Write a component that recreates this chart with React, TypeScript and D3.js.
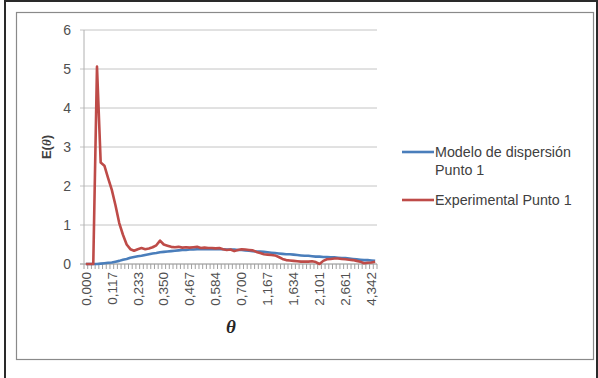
import React from "react";
import * as d3 from "d3";

// θ labels shown on the category axis (one every 7 categories)
const thetaTicks = ["0,000", "0,117", "0,233", "0,350", "0,467", "0,584", "0,700", "1,167", "1,634", "2,101", "2,661", "4,342"];
const tickEvery = 7;

const yTicks = [0, 1, 2, 3, 4, 5, 6];

// Modelo de dispersión Punto 1
const modelo = [
  0, 0, 0, 0, 0.01, 0.02, 0.03, 0.04, 0.06, 0.08,
  0.11, 0.13, 0.16, 0.18, 0.2, 0.21, 0.23, 0.25, 0.27, 0.28,
  0.3, 0.31, 0.32, 0.33, 0.34, 0.35, 0.36, 0.36, 0.37, 0.37,
  0.38, 0.38, 0.38, 0.38, 0.38, 0.38, 0.38, 0.38, 0.37, 0.37,
  0.37, 0.36, 0.36, 0.35, 0.34, 0.33, 0.32, 0.32, 0.31, 0.3,
  0.29, 0.28, 0.27, 0.26, 0.25, 0.25, 0.24, 0.23, 0.22, 0.21,
  0.21, 0.2, 0.19, 0.19, 0.18, 0.18, 0.17, 0.17, 0.16, 0.15,
  0.15, 0.14, 0.13, 0.12, 0.11, 0.1, 0.1, 0.09, 0.08,
];

// Experimental Punto 1
const experimental = [
  0, 0, 0, 5.06, 2.6, 2.52, 2.2, 1.9, 1.5, 1.05,
  0.75, 0.5, 0.38, 0.34, 0.38, 0.41, 0.38, 0.4, 0.43, 0.48,
  0.6, 0.5, 0.47, 0.44, 0.43, 0.44, 0.42, 0.43, 0.42, 0.43,
  0.44, 0.41, 0.42, 0.41, 0.41, 0.4, 0.41, 0.38, 0.36, 0.37,
  0.33, 0.36, 0.38, 0.37, 0.36, 0.35, 0.31, 0.28, 0.25, 0.24,
  0.23, 0.22, 0.18, 0.13, 0.1, 0.09, 0.08, 0.07, 0.06, 0.06,
  0.06, 0.07, 0.05, 0, 0.08, 0.12, 0.13, 0.14, 0.14, 0.13,
  0.12, 0.11, 0.1, 0.08, 0.06, 0.02, 0.03, 0.04, 0.06,
];

const series = [
  { name: ["Modelo de dispersión", "Punto 1"], values: modelo, color: "#4a7ebb" },
  { name: ["Experimental Punto 1"], values: experimental, color: "#be4b48" },
];

const font = "'Liberation Sans', Arial, sans-serif";

export default function App() {
  const width = 598;
  const height = 378;
  const plot = { left: 84, right: 377, top: 30, bottom: 264 };

  const idx = d3.range(modelo.length);
  const x = d3.scaleBand<number>().domain(idx).range([plot.left, plot.right]);
  const cx = (i: number) => (x(i) as number) + x.bandwidth() / 2;
  const y = d3.scaleLinear().domain([0, 6]).range([plot.bottom, plot.top]);

  const line = d3
    .line<number>()
    .x((_, i) => cx(i))
    .y((d) => y(d));

  const boundaries = d3.range(idx.length + 1).map((i) => plot.left + i * x.step());

  return (
    <svg
      width={width}
      height={height}
      style={{ position: "fixed", left: 0, top: 0, background: "#fff" }}
      fontFamily={font}
    >
      {/* outer frame */}
      <path d="M5,380 V1 H597 V380" fill="none" stroke="#2a2a2a" strokeWidth={2} />
      {/* chart area */}
      <rect x={16.5} y={12.5} width={577} height={347} fill="#fff" stroke="#8a8a8a" strokeWidth={1.2} />

      {/* gridlines */}
      {yTicks.map((t) => (
        <line key={t} x1={plot.left - 4} x2={plot.right} y1={y(t)} y2={y(t)} stroke={t === 0 ? "#8a8a8a" : "#c4c4c4"} strokeWidth={1} />
      ))}
      <line x1={plot.left} x2={plot.left} y1={plot.top} y2={plot.bottom} stroke="#b0b0b0" />

      {/* y tick labels */}
      {yTicks.map((t) => (
        <text key={t} x={plot.left - 13} y={y(t)} dy="0.35em" textAnchor="end" fontSize={14} fill="#505050">
          {t}
        </text>
      ))}

      {/* x tick marks */}
      {boundaries.map((bx, i) => (
        <line key={i} x1={bx} x2={bx} y1={plot.bottom} y2={plot.bottom + 5} stroke="#a0a0a0" strokeWidth={1} />
      ))}

      {/* x labels */}
      {thetaTicks.map((lab, k) => {
        const px = cx(k * tickEvery);
        const py = plot.bottom + 8;
        return (
          <text
            key={lab}
            transform={`translate(${px},${py}) rotate(-90)`}
            dy="0.35em"
            textAnchor="end"
            fontSize={13.5}
            fill="#505050"
          >
            {lab}
          </text>
        );
      })}

      {/* series */}
      {series.map((s) => (
        <path key={s.color} d={line(s.values) || ""} fill="none" stroke={s.color} strokeWidth={2.6} strokeLinejoin="round" />
      ))}

      {/* axis titles */}
      <text transform="translate(51,147) rotate(-90)" textAnchor="middle" fontSize={13} fontWeight="bold" fill="#404040">
        E(<tspan fontFamily="'Liberation Serif', serif" fontStyle="italic">θ</tspan>)
      </text>
      <text x={231} y={333} textAnchor="middle" fontSize={19} fontWeight="bold" fontStyle="italic" fontFamily="'Liberation Serif', serif" fill="#262626">
        θ
      </text>

      {/* legend */}
      {series.map((s, k) => {
        const ly = k === 0 ? 152 : 200;
        return (
          <g key={s.color}>
            <line x1={402} x2={434} y1={ly} y2={ly} stroke={s.color} strokeWidth={2.6} />
            {s.name.map((n, j) => (
              <text key={n} x={435} y={ly + 5 + j * 18} fontSize={14.3} fill="#404040">
                {n}
              </text>
            ))}
          </g>
        );
      })}
    </svg>
  );
}
